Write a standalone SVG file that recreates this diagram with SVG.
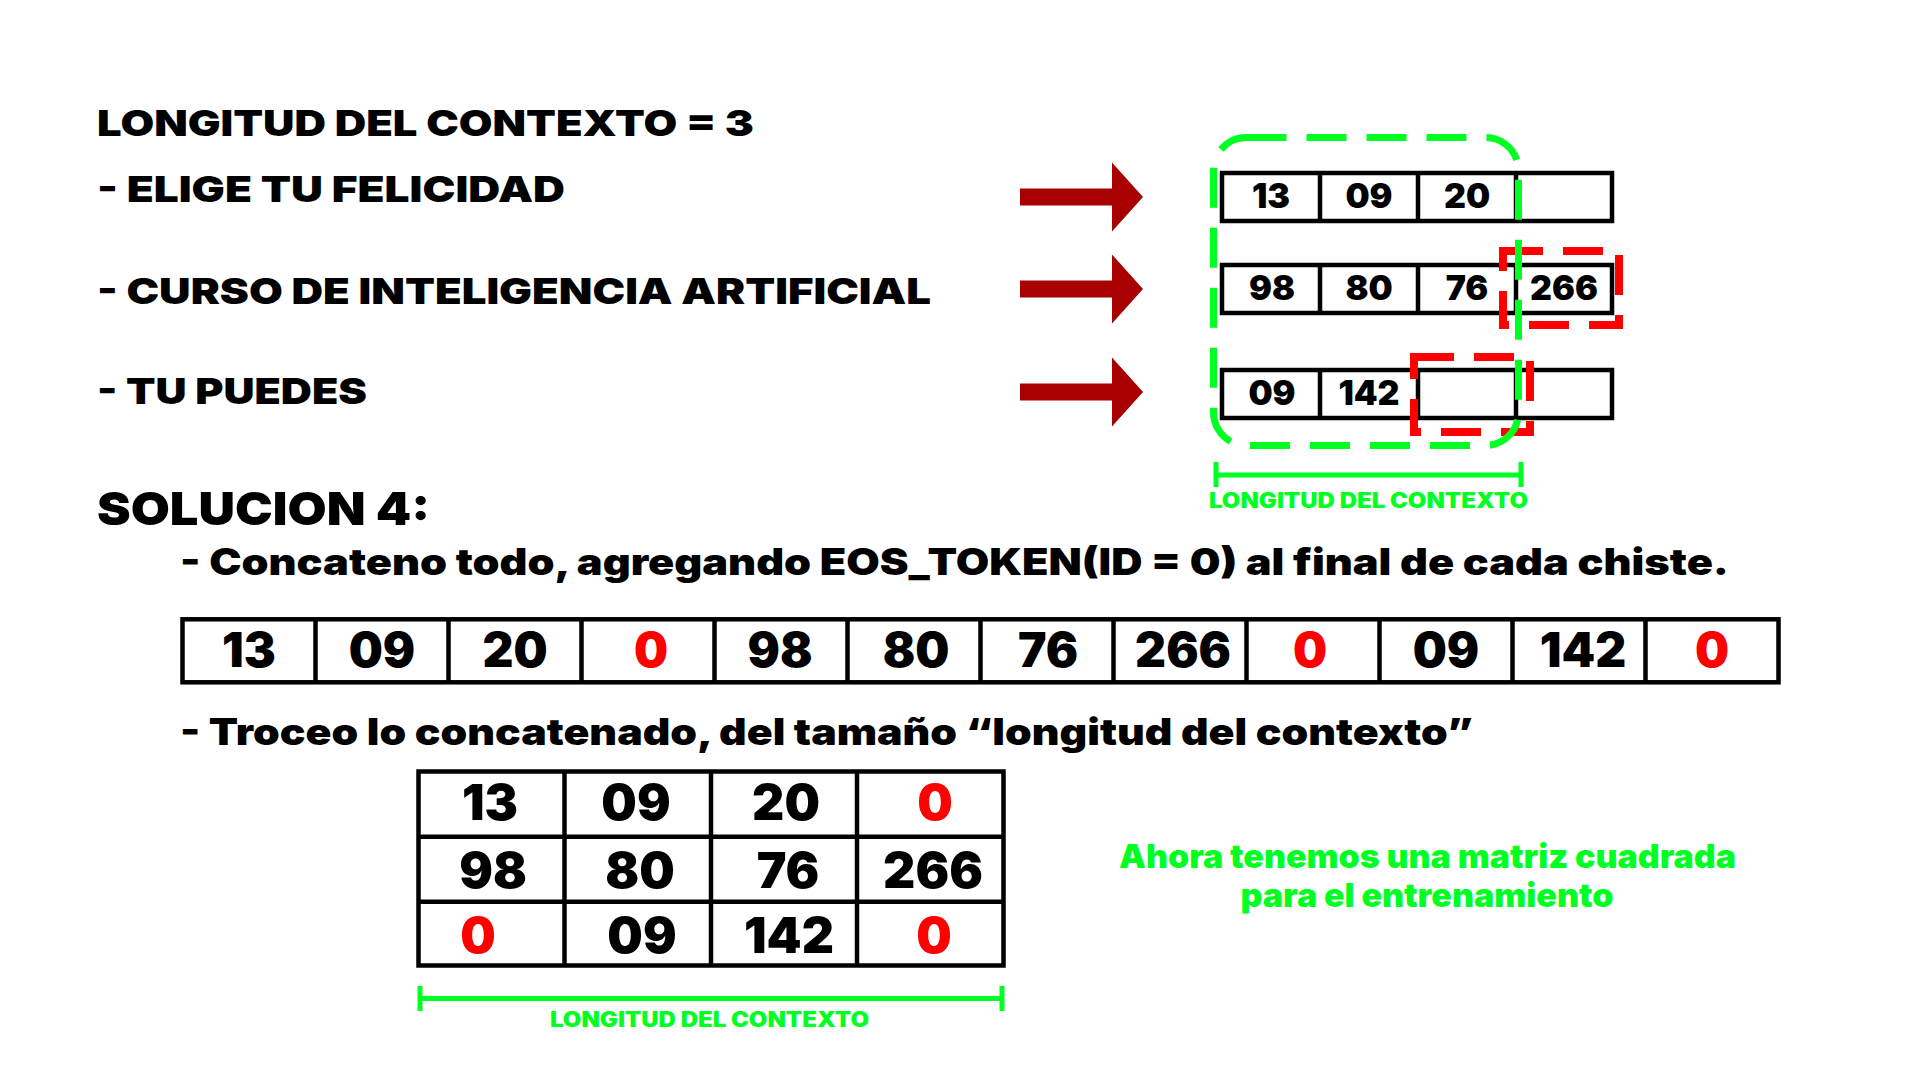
<svg xmlns="http://www.w3.org/2000/svg" width="1920" height="1080" viewBox="0 0 1920 1080">
  <defs>
    <style>
      .t { font-family: Inter, "Liberation Sans", "DejaVu Sans", sans-serif; font-weight: 900; fill: #000; }
      .h { font-size: 36px; }
      .sub { font-size: 37px; }
      .num { font-size: 34px; text-anchor: middle; }
      .big { font-size: 48px; text-anchor: middle; }
      .mat { font-size: 50px; text-anchor: middle; }
      .red { fill: #FF0000; }
      .grn { fill: #00FF22; }
      .lbl { font-size: 21px; text-anchor: middle; }
      .note { font-size: 33px; text-anchor: middle; }
      .box { fill: #FFFFFF; stroke: #000; stroke-width: 4.5; }
      .div { stroke: #000; stroke-width: 4.5; }
      .gdash { fill: none; stroke: #00FF22; stroke-width: 7; stroke-dasharray: 40 20; }
      .rdash { fill: none; stroke: #FF0000; stroke-width: 8; stroke-dasharray: 40 20; }
      .gline { fill: none; stroke: #00FF22; stroke-width: 5; }
      .arrow { fill: #A80000; }
    </style>
  </defs>
  <rect width="1920" height="1080" fill="#FFFFFF"/>

  <g id="titles">
    <text class="t h" x="97" y="136" textLength="657" lengthAdjust="spacingAndGlyphs">LONGITUD DEL CONTEXTO = 3</text>
    <text class="t h" x="97" y="202" textLength="468" lengthAdjust="spacingAndGlyphs">- ELIGE TU FELICIDAD</text>
    <text class="t h" x="97" y="304" textLength="834" lengthAdjust="spacingAndGlyphs">- CURSO DE INTELIGENCIA ARTIFICIAL</text>
    <text class="t h" x="97" y="404" textLength="270" lengthAdjust="spacingAndGlyphs">- TU PUEDES</text>
    <text class="t" x="97" y="525" font-size="46" textLength="333" lengthAdjust="spacingAndGlyphs">SOLUCION 4:</text>
    <text class="t sub" x="180" y="575" textLength="1549" lengthAdjust="spacingAndGlyphs">- Concateno todo, agregando EOS_TOKEN(ID = 0) al final de cada chiste.</text>
    <text class="t sub" x="180" y="745" textLength="1293" lengthAdjust="spacingAndGlyphs">- Troceo lo concatenado, del tamaño “longitud del contexto”</text>
  </g>

  <g id="connectors">
    <polygon class="arrow" points="1020,188.5 1112,188.5 1112,162.5 1143,197 1112,231.5 1112,205.5 1020,205.5"/>
    <polygon class="arrow" points="1020,280.5 1112,280.5 1112,254.5 1143,289 1112,323.5 1112,297.5 1020,297.5"/>
    <polygon class="arrow" points="1020,383.5 1112,383.5 1112,357.5 1143,392 1112,426.5 1112,400.5 1020,400.5"/>
  </g>

  <g id="tokens-row1">
    <rect class="box" x="1222" y="173" width="390" height="48"/>
    <line class="div" x1="1320" y1="173" x2="1320" y2="221"/>
    <line class="div" x1="1418" y1="173" x2="1418" y2="221"/>
    <line class="div" x1="1516" y1="173" x2="1516" y2="221"/>
    <text class="t num" x="1271" y="208">13</text>
    <text class="t num" x="1369" y="208">09</text>
    <text class="t num" x="1467" y="208">20</text>
  </g>

  <g id="tokens-row2">
    <rect class="box" x="1222" y="265" width="390" height="48"/>
    <line class="div" x1="1320" y1="265" x2="1320" y2="313"/>
    <line class="div" x1="1418" y1="265" x2="1418" y2="313"/>
    <line class="div" x1="1516" y1="265" x2="1516" y2="313"/>
    <text class="t num" x="1272" y="300">98</text>
    <text class="t num" x="1369" y="300">80</text>
    <text class="t num" x="1467" y="300">76</text>
    <text class="t num" x="1564" y="300">266</text>
  </g>

  <g id="tokens-row3">
    <rect class="box" x="1222" y="370" width="390" height="48"/>
    <line class="div" x1="1320" y1="370" x2="1320" y2="418"/>
    <line class="div" x1="1418" y1="370" x2="1418" y2="418"/>
    <line class="div" x1="1516" y1="370" x2="1516" y2="418"/>
    <text class="t num" x="1272" y="405">09</text>
    <text class="t num" x="1369" y="405">142</text>
  </g>

  <g id="overflow-marks">
    <rect class="rdash" x="1503" y="251" width="116" height="74"/>
    <rect class="rdash" x="1414" y="357" width="116" height="75"/>
  </g>

  <g id="context-window">
    <rect class="gdash" x="1213.5" y="137.5" width="305" height="308" rx="33" ry="33"/>
    <path class="gline" d="M1216,462 V487 M1216,475 H1521 M1521,462 V487"/>
    <text class="t grn lbl" x="1368.5" y="508" textLength="319" lengthAdjust="spacingAndGlyphs">LONGITUD DEL CONTEXTO</text>
  </g>

  <g id="concatenated">
    <rect class="box" x="182.5" y="619.3" width="1596" height="63"/>
    <line class="div" x1="315.5" y1="619" x2="315.5" y2="682"/>
    <line class="div" x1="448.5" y1="619" x2="448.5" y2="682"/>
    <line class="div" x1="581.5" y1="619" x2="581.5" y2="682"/>
    <line class="div" x1="714.5" y1="619" x2="714.5" y2="682"/>
    <line class="div" x1="847.5" y1="619" x2="847.5" y2="682"/>
    <line class="div" x1="980.5" y1="619" x2="980.5" y2="682"/>
    <line class="div" x1="1113.5" y1="619" x2="1113.5" y2="682"/>
    <line class="div" x1="1246.5" y1="619" x2="1246.5" y2="682"/>
    <line class="div" x1="1379.5" y1="619" x2="1379.5" y2="682"/>
    <line class="div" x1="1512.5" y1="619" x2="1512.5" y2="682"/>
    <line class="div" x1="1645.5" y1="619" x2="1645.5" y2="682"/>
    <text class="t big" x="249" y="667">13</text>
    <text class="t big" x="382" y="667">09</text>
    <text class="t big" x="515" y="667">20</text>
    <text class="t big red" x="651" y="667">0</text>
    <text class="t big" x="780" y="667">98</text>
    <text class="t big" x="916" y="667">80</text>
    <text class="t big" x="1048" y="667">76</text>
    <text class="t big" x="1183" y="667">266</text>
    <text class="t big red" x="1310" y="667">0</text>
    <text class="t big" x="1446" y="667">09</text>
    <text class="t big" x="1583" y="667">142</text>
    <text class="t big red" x="1712" y="667">0</text>
  </g>

  <g id="matrix">
    <rect class="box" x="418.5" y="771.5" width="585" height="194" stroke-width="5"/>
    <line class="div" x1="564.5" y1="771" x2="564.5" y2="966" stroke-width="5"/>
    <line class="div" x1="711" y1="771" x2="711" y2="966" stroke-width="5"/>
    <line class="div" x1="857" y1="771" x2="857" y2="966" stroke-width="5"/>
    <line class="div" x1="418" y1="836.7" x2="1004" y2="836.7" stroke-width="5"/>
    <line class="div" x1="418" y1="901.7" x2="1004" y2="901.7" stroke-width="5"/>
    <text class="t mat" x="490" y="820">13</text>
    <text class="t mat" x="636" y="820">09</text>
    <text class="t mat" x="786" y="820">20</text>
    <text class="t mat red" x="935" y="820">0</text>
    <text class="t mat" x="493" y="888">98</text>
    <text class="t mat" x="640" y="888">80</text>
    <text class="t mat" x="788" y="888">76</text>
    <text class="t mat" x="933" y="888">266</text>
    <text class="t mat red" x="478" y="953">0</text>
    <text class="t mat" x="642" y="953">09</text>
    <text class="t mat" x="789" y="953">142</text>
    <text class="t mat red" x="934" y="953">0</text>
  </g>

  <g id="matrix-width">
    <path class="gline" d="M420,986 V1011 M420,998.5 H1002 M1002,986 V1011"/>
    <text class="t grn lbl" x="709.5" y="1027" textLength="319" lengthAdjust="spacingAndGlyphs">LONGITUD DEL CONTEXTO</text>
  </g>

  <g id="note">
    <text class="t grn note" x="1427.5" y="868" textLength="617" lengthAdjust="spacingAndGlyphs">Ahora tenemos una matriz cuadrada</text>
    <text class="t grn note" x="1427" y="907" textLength="373" lengthAdjust="spacingAndGlyphs">para el entrenamiento</text>
  </g>
</svg>
